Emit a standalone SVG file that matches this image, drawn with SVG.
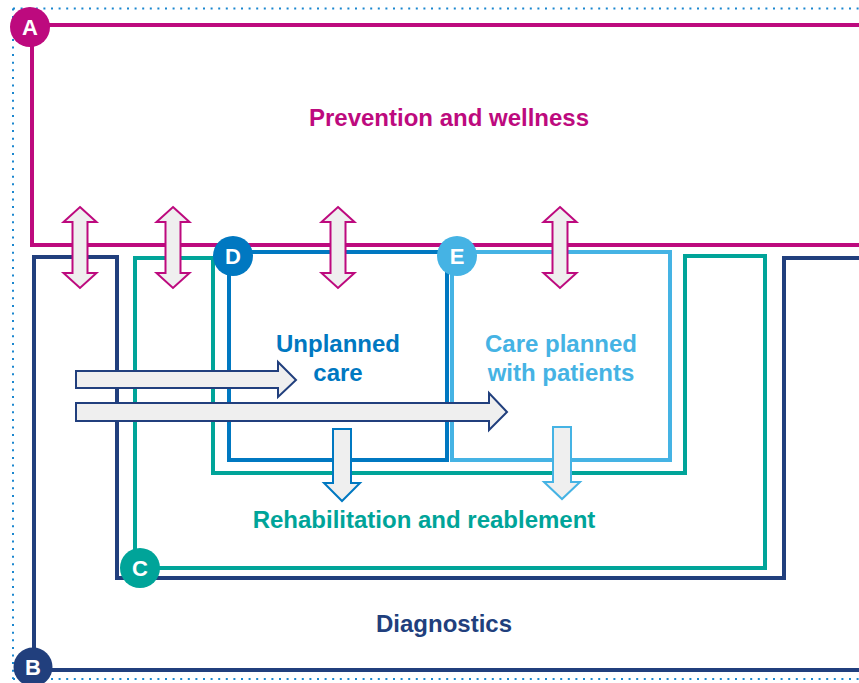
<svg xmlns="http://www.w3.org/2000/svg" width="859" height="683" viewBox="0 0 859 683">
<style>
.ln{fill:none;stroke-width:4;stroke-linejoin:miter;stroke-linecap:square}
.lbl{font-family:"Liberation Sans",Arial,sans-serif;font-weight:bold;font-size:24px;text-anchor:middle}
.badge{font-family:"Liberation Sans",Arial,sans-serif;font-weight:bold;font-size:22px;fill:#fff;text-anchor:middle}
.dbl{fill:#EFEFEF;stroke:#BD0A7E;stroke-width:2}
.rt{fill:#EFEFEF;stroke:#213F7D;stroke-width:2}
</style>
<defs>
<path id="dblarrow" d="M0,207 L16.5,222 L7.5,222 L7.5,273 L16.5,273 L0,288 L-16.5,273 L-7.5,273 L-7.5,222 L-16.5,222 Z"/>
</defs>
<rect width="859" height="683" fill="#fff"/>
<g id="border" fill="none" stroke="#1B87CF" stroke-width="2" stroke-dasharray="2 5.6">
<line x1="13" y1="8.5" x2="859" y2="8.5"/>
<line x1="13" y1="8.5" x2="13" y2="679"/>
<line x1="13" y1="679" x2="859" y2="679"/>
</g>
<g id="nodeA">
<path class="ln" stroke="#BD0A7E" d="M30,25 H861"/>
<path class="ln" stroke="#BD0A7E" d="M32,27 V245 H861"/>
<circle cx="30" cy="27" r="20" fill="#BD0A7E"/>
<text class="badge" x="30" y="35">A</text>
<text class="lbl" x="449" y="126" fill="#BD0A7E">Prevention and wellness</text>
</g>
<g id="nodeB">
<path class="ln" stroke="#213F7D" d="M861,258 H784 V578 H117 V257 H34 V670 H861"/>
<circle cx="33" cy="667" r="19.5" fill="#213F7D"/>
<text class="badge" x="33" y="675">B</text>
<text class="lbl" x="444" y="632" fill="#213F7D">Diagnostics</text>
</g>
<g id="nodeC">
<path class="ln" stroke="#00A499" d="M140,568 H765 V256 H685 V473 H213 V258 H135 V568"/>
<circle cx="140" cy="568" r="20" fill="#00A499"/>
<text class="badge" x="140" y="576">C</text>
<text class="lbl" x="424" y="528" fill="#00A499">Rehabilitation and reablement</text>
</g>
<g id="nodeD">
<rect class="ln" stroke="#0078C1" x="229" y="252" width="218" height="208"/>
<circle cx="233" cy="256" r="20" fill="#0078C1"/>
<text class="badge" x="233" y="264">D</text>
<text class="lbl" x="338" y="352" fill="#0078C1">Unplanned</text>
<text class="lbl" x="338" y="381" fill="#0078C1">care</text>
</g>
<g id="nodeE">
<rect class="ln" stroke="#45B3E4" x="452" y="252" width="218" height="208"/>
<circle cx="457" cy="256" r="20" fill="#45B3E4"/>
<text class="badge" x="457" y="264">E</text>
<text class="lbl" x="561" y="352" fill="#45B3E4">Care planned</text>
<text class="lbl" x="561" y="381" fill="#45B3E4">with patients</text>
</g>
<g id="connectors">
<use href="#dblarrow" class="dbl" transform="translate(80,0)"/>
<use href="#dblarrow" class="dbl" transform="translate(173,0)"/>
<use href="#dblarrow" class="dbl" transform="translate(338,0)"/>
<use href="#dblarrow" class="dbl" transform="translate(560,0)"/>
<polygon class="rt" points="76,371 278,371 278,362 296,380 278,397 278,388 76,388"/>
<polygon class="rt" points="76,403 489,403 489,393 507,412 489,430 489,421 76,421"/>
<polygon fill="#EFEFEF" stroke="#0078C1" stroke-width="2" points="333,429 351,429 351,483 360,483 342,501 324,483 333,483"/>
<polygon fill="#EFEFEF" stroke="#45B3E4" stroke-width="2" points="553,427 571,427 571,482 580,482 562,499 544,482 553,482"/>
</g>
</svg>
